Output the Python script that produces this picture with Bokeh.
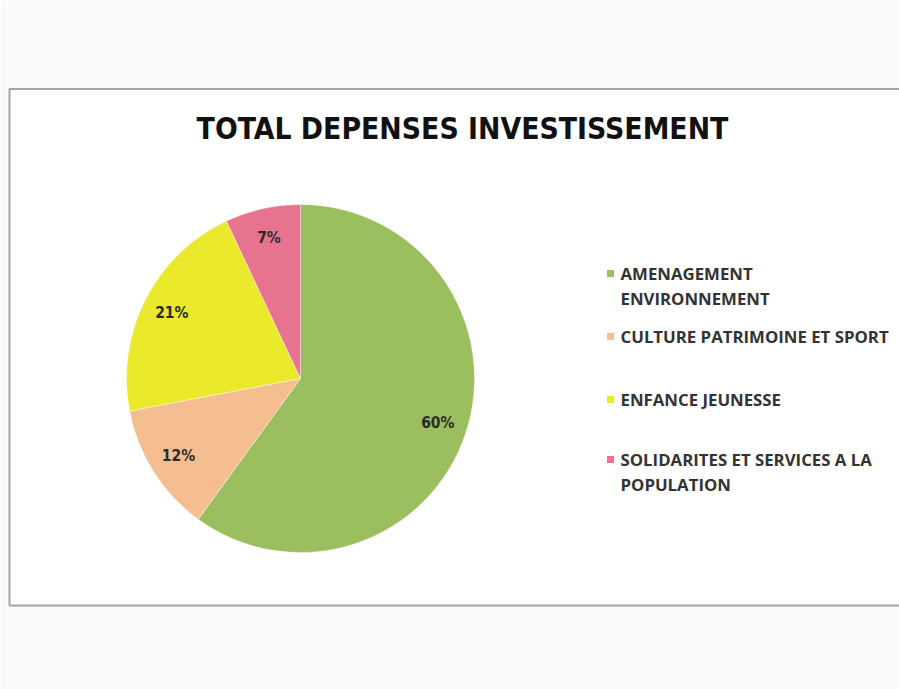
import math
from bokeh.plotting import figure
from bokeh.models import Range1d, ColumnDataSource
from bokeh.core.properties import value
from bokeh.embed import file_html
from bokeh.resources import INLINE

# ---- data ----
categories = ["AMENAGEMENT ENVIRONNEMENT", "CULTURE PATRIMOINE ET SPORT",
              "ENFANCE JEUNESSE", "SOLIDARITES ET SERVICES A LA POPULATION"]
legend_lines = [["AMENAGEMENT", "ENVIRONNEMENT"], ["CULTURE PATRIMOINE ET SPORT"],
                ["ENFANCE JEUNESSE"], ["SOLIDARITES ET SERVICES A LA", "POPULATION"]]
shares = [60, 12, 21, 7]
colors = ["#9BBE5F", "#F4BE90", "#EAE92C", "#E8738F"]
title = "TOTAL DEPENSES INVESTISSEMENT"

W, H = 899, 689
OFF = 0
def sy(y):  # screen y (page coords) -> data y
    return H - (y - OFF)
def sx(x):
    return x - OFF

p = figure(width=W, height=H, x_range=Range1d(0, W), y_range=Range1d(0, H),
           output_backend="svg", toolbar_location=None, min_border=0,
           background_fill_color="#FAFAFA", border_fill_color="#FAFAFA")
p.axis.visible = False
p.grid.visible = False
p.outline_line_color = None

# chart frame
p.quad(left=[sx(9)], right=[sx(912)], top=[sy(88.5)], bottom=[sy(605)],
       fill_color="#FFFFFF", line_color="#A3A3A3", line_width=2)

# title
p.text(x=[sx(462)], y=[sy(128)], text=[title], text_align="center", text_baseline="middle",
       text_font=value("DejaVu Sans Condensed"), text_font_style="bold",
       text_font_size="29.8px", text_color="#111111")

# pie
cx, cy, R = sx(300), sy(378), 174
total = sum(shares)
starts, ends, lx, ly, labels = [], [], [], [], []
cum = 0
for s in shares:
    a0 = math.pi / 2 - 2 * math.pi * cum / total
    cum += s
    a1 = math.pi / 2 - 2 * math.pi * cum / total
    starts.append(a0)
    ends.append(a1)
    mid = (a0 + a1) / 2
    lx.append(cx + 0.83 * R * math.cos(mid))
    ly.append(cy + 0.83 * R * math.sin(mid))
    labels.append(f"{round(100 * s / total)}%")

src = ColumnDataSource(dict(start=starts, end=ends, color=colors))
p.wedge(x=cx, y=cy, radius=R, start_angle="start", end_angle="end", direction="clock",
        fill_color="color", line_color="#FFFFFF", line_width=0.4, source=src)

p.text(x=lx, y=ly, text=labels, text_align="center", text_baseline="middle",
       text_font=value("DejaVu Sans Condensed"), text_font_style="bold",
       text_font_size="15.5px", text_color="#2B2B2B")

# legend
item_y = [273, 336, 399, 459]
line_gap = 25
sq_x, txt_x = 610, 620
p.rect(x=[sx(sq_x)] * 4, y=[sy(v) for v in item_y], width=7, height=7,
       fill_color=colors, line_color=None)
tx, ty, tt = [], [], []
for yv, lines in zip(item_y, legend_lines):
    for k, ln in enumerate(lines):
        tx.append(sx(txt_x))
        ty.append(sy(yv + k * line_gap))
        tt.append(ln)
p.text(x=tx, y=ty, text=tt, text_align="left", text_baseline="middle",
       text_font=value("Open Sans"), text_font_style="bold",
       text_font_size="16.8px", text_color="#333333")

open("out.html", "w").write(file_html(p, INLINE))
